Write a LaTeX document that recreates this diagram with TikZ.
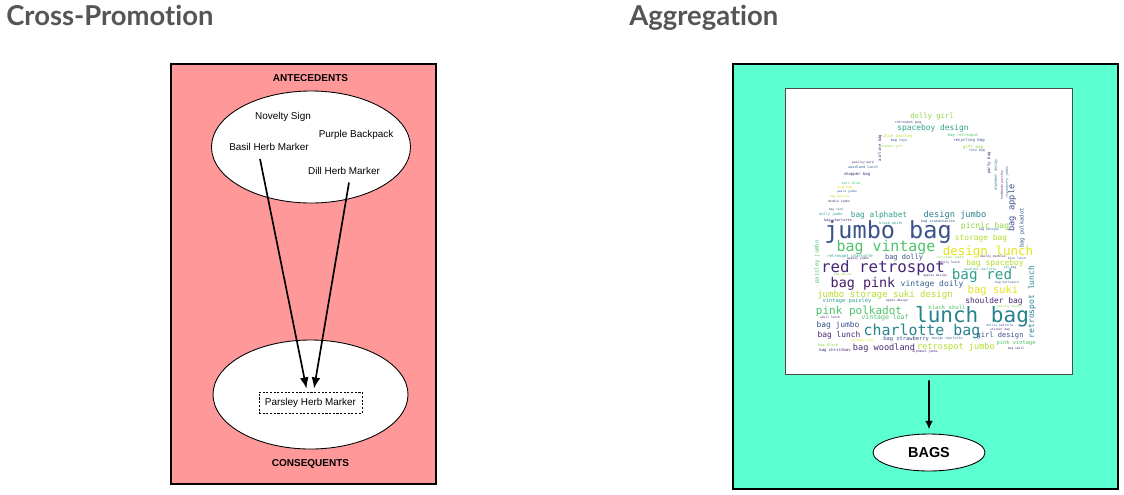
\documentclass[tikz,border=0pt]{standalone}
\usepackage{fontspec}
\usepackage{tikz}
\usetikzlibrary{arrows.meta}
\usetikzlibrary{shapes.geometric}
\setmainfont{Liberation Sans}
\newfontfamily\titlefont[Ligatures=NoCommon]{Lato}
\newfontfamily\cloudfont{DejaVu Sans Mono}
\definecolor{panelred}{HTML}{FF9999}
\definecolor{panelgreen}{HTML}{5CFFD0}
\definecolor{titlegrey}{HTML}{555555}
\definecolor{vpurple}{HTML}{482878}
\definecolor{vdeep}{HTML}{481B6D}
\definecolor{vindigo}{HTML}{3B528B}
\definecolor{vblue}{HTML}{35608D}
\definecolor{vteal}{HTML}{26828E}
\definecolor{vsea}{HTML}{2FA08C}
\definecolor{vgreen}{HTML}{4EC36B}
\definecolor{vlime}{HTML}{8FD744}
\definecolor{vpale}{HTML}{B5DE2B}
\definecolor{vyellow}{HTML}{E4E419}
\tikzset{
  heading/.style={font=\titlefont\bfseries\fontsize{15.6pt}{15.6pt}\selectfont, text=titlegrey, anchor=base west, inner sep=0pt},
  panel/.style={draw=black, line width=0.65pt},
  setoval/.style={ellipse, draw=black, fill=white, line width=0.5pt, inner sep=0pt},
  itemlabel/.style={font=\fontsize{5.65pt}{7pt}\selectfont, inner sep=0pt},
  setlabel/.style={font=\bfseries\fontsize{5.7pt}{7pt}\selectfont, inner sep=0pt},
  flowarrow/.style={line width=0.95pt, -{Latex[length=6.4pt,width=5pt]}}
}

\begin{document}
\begin{tikzpicture}[x=0.02cm,y=-0.02cm]
\useasboundingbox (0,0) rectangle (1124,494);

\node[heading] (crosstitle) at (6,25) {Cross-Promotion};
\node[heading] (aggtitle) at (629,25) {Aggregation};

% left panel
\node[panel, fill=panelred, minimum width=265*0.02cm, minimum height=420*0.02cm, inner sep=0pt] (crosspanel) at (303.5,274) {};
\node[setlabel] (antelabel) at (310.5,78.5) {ANTECEDENTS};
\node[setlabel] (conslabel) at (310.5,464) {CONSEQUENTS};
\node[setoval, minimum width=199*0.02cm, minimum height=112*0.02cm] (anteoval) at (311,147) {};
\node[setoval, minimum width=195*0.02cm, minimum height=109*0.02cm] (consoval) at (310.5,394.5) {};
\node[itemlabel] (novelty) at (283,116.5) {Novelty Sign};
\node[itemlabel] (purple) at (356,135) {Purple Backpack};
\node[itemlabel] (basil) at (269,147) {Basil Herb Marker};
\node[itemlabel] (dill) at (344,170.5) {Dill Herb Marker};
\node[itemlabel, draw, dash pattern=on 1.2pt off 0.9pt, line width=0.4pt, minimum width=103*0.02cm, minimum height=21*0.02cm] (parsley) at (310.5,402.5) {Parsley Herb Marker};

\draw[flowarrow] ([shift={(-9,8)}]basil.south) -- ([shift={(-4,-3)}]parsley.north);
\draw[flowarrow] ([shift={(5,8)}]dill.south) -- ([shift={(3.5,-3)}]parsley.north);

% right panel
\node[panel, fill=panelgreen, minimum width=385*0.02cm, minimum height=425*0.02cm, inner sep=0pt] (aggpanel) at (925.5,276.5) {};
\node[draw=black!70, fill=white, line width=0.4pt, minimum width=287*0.02cm, minimum height=286*0.02cm, inner sep=0pt] (cloudbox) at (928.5,231) {};
\node[setoval, minimum width=112*0.02cm, minimum height=37*0.02cm, font=\bfseries\fontsize{8.2pt}{9pt}\selectfont] (bags) at (929,452.5) {BAGS};
\draw[line width=0.95pt, -{Latex[length=5pt,width=4.4pt]}] ([shift={(0.5,6)}]cloudbox.south) -- ([shift={(0,-4)}]bags.north);

% word cloud
\foreach \wx/\wy/\wsize/\wrot/\wcol/\wtext [count=\wi] in {
  932/117/7.2/0/vlime/dolly girl,
  933/128/7.9/0/vsea/spaceboy design,
  908/123/3.4/0/vindigo/retrospot pug,
  898/136/4/0/vpale/blue paisley,
  963/135/3.9/0/vgreen/bag retrospot,
  969/140/4/0/vindigo/recycling bag,
  899/141/3.4/0/vblue/bag toys,
  973/147/4.2/0/vlime/gift bag,
  977/151/3.3/0/vblue/tote bag,
  880/148/4/90/vpurple/airline bag,
  892/147/3/0/vlime/shopper gift,
  989/163/4/90/vpurple/party bag,
  996/175/3.5/90/vteal/alphabet design,
  1007/182/3.2/90/vblue/strawberry jumbo,
  1002/185/3/90/vpurple/handmade paisley,
  863/163/3/0/vpurple/paisley park,
  863/167/3.5/0/vblue/woodland lunch,
  857/174/4/0/vpurple/shopper bag,
  851/183/3.5/0/vgreen/cars blue,
  845/188/3.5/0/vyellow/pug bag,
  847/192/3/0/vblue/pears jumbo,
  840/197/3/0/vpale/bag paisley,
  839/202/3/0/vpurple/double jumbo,
  836/210/3/0/vblue/bag cars,
  831/215/3.5/0/vsea/dolly jumbo,
  838/221/3.5/0/vpurple/bag charlotte,
  891/223/3.5/0/vsea/black white,
  938/222/3.5/0/vblue/bag scandinavian,
  989/230/3/0/vblue/bag baroque,
  879/215/7.8/0/vsea/bag alphabet,
  955/215/8.7/0/vteal/design jumbo,
  1012/208/8.7/90/vindigo/bag apple,
  1022/228/5.5/90/vblue/bag polkadot,
  985/226/8/0/vlime/picnic bag,
  888/232/23.5/0/vindigo/jumbo bag,
  886/247/14.9/0/vgreen/bag vintage,
  988/252/12.5/0/vyellow/design lunch,
  981/238/7.9/0/vpale/storage bag,
  817/262/5.5/90/vgreen/paisley jumbo,
  850/256/4/0/vsea/retrospot charlotte,
  858/259/3/0/vpurple/apples jumbo,
  904/258/7/0/vindigo/bag dolly,
  950/258/3/0/vlime/christmas jumbo,
  993/257/3/0/vpurple/mainly marbles,
  1017/258/3/0/vblue/blue lunch,
  950/263/3/0/vpurple/doily lunch,
  995/263/7.9/0/vpale/bag spaceboy,
  883/268/15.8/0/vpurple/red retrospot,
  980/269/3/0/vsea/woodland charlotte,
  1010/268/3/0/vblue/jet bag,
  982/276/14.3/0/vsea/bag red,
  843/275/3/0/vlime/bag doiley,
  935/276/3/0/vpurple/apples design,
  1007/283/3/0/vblue/bag harlequin,
  863/284/13.4/0/vdeep/bag pink,
  932/284/8/0/vblue/vintage doily,
  993/291/10.5/0/vyellow/bag suki,
  885/295/9/0/vpale/jumbo storage suki design,
  847/301/5.4/0/vsea/vintage paisley,
  897/301/3/0/vpurple/apple design,
  994/301/7.9/0/vpurple/shoulder bag,
  1032/302/8/90/vteal/retrospot lunch,
  947/307/5.6/0/vgreen/black skull,
  1010/307/3/0/vlime/paisley picnic,
  859/311/11/0/vgreen/pink polkadot,
  972/317/21/0/vteal/lunch bag,
  885/318/6.5/0/vgreen/vintage leaf,
  830/317/3/0/vpurple/skull lunch,
  838/325/7.9/0/vindigo/bag jumbo,
  1000/326/3/0/vblue/doiley patterns,
  1000/330/3/0/vpurple/sticker bag,
  922/331/14.9/0/vteal/charlotte bag,
  839/335/7.9/0/vpurple/bag lunch,
  1000/336/7.1/0/vindigo/girl design,
  906/339/5.4/0/vindigo/bag strawberry,
  947/339/3.2/0/vblue/design charlotte,
  862/341/3/0/vyellow/polkadot bag,
  1016/343/5.4/0/vgreen/pink vintage,
  828/345/3.7/0/vlime/bag black,
  884/348/8.6/0/vpurple/bag woodland,
  956/347/8.6/0/vpale/retrospot jumbo,
  1016/349/3/0/vpurple/bag skull,
  835/350/4/0/vpurple/bag christmas,
  925/352/3/0/vpurple/alphabet jumbo%
} {
  \pgfmathsetmacro\wpt{\wsize*0.5692}
  \node[inner sep=0pt, rotate=\wrot, text=\wcol, font=\cloudfont\fontsize{\wpt pt}{\wpt pt}\selectfont] (word\wi) at (\wx,\wy) {\wtext};
}

\end{tikzpicture}
\end{document}
